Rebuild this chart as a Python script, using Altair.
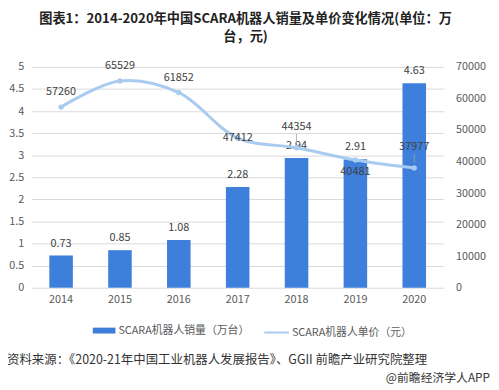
import altair as alt
import pandas as pd

years = ["2014", "2015", "2016", "2017", "2018", "2019", "2020"]
sales = [0.73, 0.85, 1.08, 2.28, 2.94, 2.91, 4.63]
price = [57260, 65529, 61852, 47412, 44354, 40481, 37977]
sales_name = "SCARA机器人销量（万台）"
price_name = "SCARA机器人单价（元）"
title_lines = ["图表1：2014-2020年中国SCARA机器人销量及单价变化情况(单位：万", "台，元)"]
source_text = ["资料来源：《2020-21年中国工业机器人发展报告》、GGII 前瞻产业研究院整理"]
brand_text = ["@前瞻经济学人APP"]

FONT = "Noto Sans CJK SC"
BAR = "#3D7FDB"
LINE = "#A9CBF0"
TXT = "#404040"

df = pd.DataFrame({"year": years, "sales": sales, "price": price})
df["s1"] = sales_name
df["s2"] = price_name

xenc = alt.X("year:N", sort=years, title=None,
             scale=alt.Scale(paddingInner=0.6, paddingOuter=0.3),
             axis=alt.Axis(labelAngle=0, domain=False, ticks=False, labelPadding=6,
                           labelFontSize=11, labelColor="#595959", labelFont=FONT))

base = alt.Chart(df).encode(x=xenc)

ysales = alt.Y("sales:Q", title=None,
               scale=alt.Scale(domain=[0, 5], nice=False),
               axis=alt.Axis(orient="left", values=[i * 0.5 for i in range(11)], format="~g",
                             grid=True, gridColor="#D9D9D9", domain=False, ticks=False,
                             labelPadding=8, labelFontSize=11, labelColor="#595959", labelFont=FONT))

yprice = alt.Y("price:Q", title=None,
               scale=alt.Scale(domain=[0, 70000], nice=False),
               axis=alt.Axis(orient="right", values=list(range(0, 70001, 10000)), format="d",
                             grid=False, domain=False, ticks=False,
                             labelPadding=12, labelFontSize=11, labelColor="#595959", labelFont=FONT))

bars = base.mark_bar().encode(
    y=ysales,
    fill=alt.Fill("s1:N", title=None,
                  scale=alt.Scale(domain=[sales_name], range=[BAR]),
                  legend=alt.Legend(orient="none", legendX=62, legendY=256, title=None,
                                    symbolType="M-1,-0.26H1V0.26H-1Z", symbolSize=529,
                                    symbolStrokeWidth=0, labelOffset=3, padding=0,
                                    labelFontSize=11, labelColor="#595959", labelFont=FONT)))
bar_text = base.mark_text(dy=-12, fontSize=11, color=TXT, font=FONT).encode(
    y=ysales, text=alt.Text("sales:Q", format=".2f"))

line = base.mark_line(interpolate="catmull-rom", strokeWidth=3).encode(
    y=yprice,
    stroke=alt.Stroke("s2:N", title=None,
                      scale=alt.Scale(domain=[price_name], range=[LINE]),
                      legend=alt.Legend(orient="none", legendX=235, legendY=256, title=None,
                                        symbolType="stroke", symbolSize=625, symbolStrokeWidth=2,
                                        labelOffset=2, padding=0,
                                        labelFontSize=11, labelColor="#595959", labelFont=FONT)))
points = base.mark_point(filled=True, size=30, color=LINE, opacity=1).encode(y=yprice)

def ptext(sel, dy):
    return base.mark_text(dy=dy, fontSize=11, color=TXT, font=FONT).encode(
        y=yprice, text=alt.Text("price:Q", format="d")
    ).transform_filter(alt.FieldOneOfPredicate(field="year", oneOf=sel))

pt_above = ptext(["2014", "2015", "2016"], -15)
pt_center = ptext(["2017"], 0)
pt_high = ptext(["2018", "2020"], -21)
pt_below = ptext(["2019"], 12)
leaders = base.mark_rule(color="#A6A6A6", strokeWidth=0.8, yOffset=-5, y2Offset=-14).encode(
    y=yprice, y2="price:Q"
).transform_filter(alt.FieldOneOfPredicate(field="year", oneOf=["2018", "2020"]))

left_layer = alt.layer(bars, bar_text)
right_layer = alt.layer(line, leaders, points, pt_above, pt_center, pt_high, pt_below)

src = alt.Chart(pd.DataFrame({"t": source_text})).mark_text(
    align="left", baseline="middle", fontSize=12.6, color="#333333", font=FONT
).encode(x=alt.value(-25), y=alt.value(297), text="t:N")
brand = alt.Chart(pd.DataFrame({"t": brand_text})).mark_text(
    align="right", baseline="middle", fontSize=12, color="#333333", font=FONT
).encode(x=alt.value(465), y=alt.value(316), text="t:N")

chart = alt.layer(left_layer, right_layer, src, brand).resolve_scale(
    y="independent"
).properties(
    width=418, height=224,
    autosize=alt.AutoSizeParams(type="none"),
    padding={"left": 24, "top": 57, "right": 48, "bottom": 100},
    title=alt.Title(title_lines, anchor="middle", fontSize=13.4, fontWeight="bold",
                    font=FONT, color="#222222", offset=17, dx=8, lineHeight=18),
).configure_view(stroke=None)

chart.save("out.html", embed_options={"renderer": "svg", "actions": False})
